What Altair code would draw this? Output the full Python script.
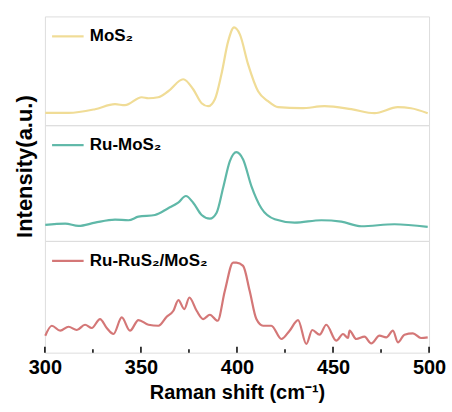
import altair as alt
import pandas as pd

# ---- data ----
mos2_x = [300.2, 312.3, 326.1, 336.5, 341.7, 350.4, 353.9, 359.0, 364.2, 372.0, 377.2,
          381.6, 385.0, 388.5, 391.9, 395.4, 398.5, 401.5, 405.8, 411.0, 416.2, 421.4,
          433.5, 445.6, 459.5, 471.6, 483.7, 490.6, 499.3]
mos2_y = [12.3, 12.3, 16, 21, 20, 28, 27, 28, 34, 46, 36,
          22, 19, 26, 51, 84, 98, 91, 61, 34, 24, 18,
          17, 19, 16, 12, 18, 17, 12]

ru_x = [300.2, 310.6, 317.5, 326.1, 336.5, 343.5, 348.7, 357.3, 364.2, 369.4, 373.4,
        377.2, 381.6, 385.9, 389.4, 392.8, 396.3, 399.7, 403.2, 407.5, 412.7, 419.7,
        430.0, 443.9, 454.3, 464.7, 482.0, 499.3]
ru_y = [16, 17.3, 15, 18.3, 21.3, 20.7, 24.3, 26, 32.7, 38.3, 45,
        38.3, 26, 22.3, 28.3, 53.3, 80, 89, 81.7, 55, 32.7, 21.7,
        18.3, 20.7, 19.3, 14.7, 16.7, 14]

rurus_x = [300.2, 303.6, 308.0, 312.3, 316.6, 320.9, 324.4, 328.7, 332.2, 335.7, 340.0,
           344.3, 348.7, 353.9, 359.1, 363.4, 366.9, 369.5, 372.6, 375.2, 379.0, 382.4,
           385.9, 389.9, 393.7, 398.0, 399.7, 403.2, 406.6, 410.1, 413.6, 417.9, 423.1,
           427.4, 431.8, 436.1, 439.2, 443.0, 446.5, 451.7, 455.2, 457.8, 458.6, 462.1,
           466.4, 469.9, 474.2, 477.7, 481.2, 483.8, 487.2, 491.6, 495.8, 499.3]
rurus_y = [17, 27, 22, 26, 22.7, 28, 24.7, 33.7, 24.7, 18.7, 35.3,
           22, 32.7, 28, 27, 36, 42, 52.7, 43.7, 55.3, 42, 33.7,
           38, 32, 62, 90.3, 90.3, 87, 62, 33.7, 27, 27, 13.7,
           22, 32.7, 8.7, 22.7, 18, 28, 12, 18.7, 14.7, 22, 13.7,
           16, 9.3, 17, 15.3, 22, 10.3, 18, 19.3, 14.7, 15.3]

names = ["MoS₂", "Ru-MoS₂", "Ru-RuS₂/MoS₂"]
colors = ["#F0DC96", "#5FB8A8", "#D47777"]
major_ticks = [300, 350, 400, 450, 500]
minor_ticks = [325, 375, 425, 475]

FONT = "Liberation Sans"
W = 385
heights = [109, 116, 112]


def panel(xs, ys, name, color, h, bottom=False, ytitle=False):
    df = pd.DataFrame({"shift": xs, "intensity": ys, "sample": name})
    if bottom:
        xaxis = alt.Axis(values=major_ticks, ticks=False, domain=False, grid=False,
                         labelFont=FONT, labelFontSize=20, labelFontWeight="bold",
                         labelColor="black", labelPadding=5, labelFlush=False,
                         title="Raman shift (cm⁻¹)", titleFont=FONT, titleFontSize=20,
                         titleFontWeight="bold", titleColor="black", titlePadding=5)
    else:
        xaxis = None
    if ytitle:
        yaxis = alt.Axis(labels=False, ticks=False, domain=False, grid=False,
                         title="Intensity(a.u.)", titleFont=FONT, titleFontSize=22,
                         titleFontWeight="bold", titleColor="black", titlePadding=8,
                         titleY=41)
    else:
        yaxis = None
    line = alt.Chart(df).mark_line(strokeWidth=2.2, interpolate="monotone").encode(
        x=alt.X("shift:Q", scale=alt.Scale(domain=[300, 500], nice=False), axis=xaxis),
        y=alt.Y("intensity:Q", scale=alt.Scale(domain=[0, h], nice=False), axis=yaxis),
        color=alt.Color("sample:N", scale=alt.Scale(domain=[name], range=[color]),
                        legend=alt.Legend(title=None, orient="none", legendX=6, legendY=3,
                                          symbolType="stroke", symbolSize=1000,
                                          symbolStrokeWidth=2.2, labelFont=FONT,
                                          labelFontSize=17, labelFontWeight="bold",
                                          labelColor="black", padding=0, labelOffset=5)),
    )
    layers = [line]
    if bottom:
        maj = alt.Chart(pd.DataFrame({"t": major_ticks})).mark_rule(
            color="black", strokeWidth=1.5).encode(
            x="t:Q", y=alt.value(h - 6), y2=alt.value(h))
        mnr = alt.Chart(pd.DataFrame({"t": minor_ticks})).mark_rule(
            color="black", strokeWidth=1.5).encode(
            x="t:Q", y=alt.value(h - 3.5), y2=alt.value(h))
        layers += [maj, mnr]
    return alt.layer(*layers).properties(width=W, height=h)


top = panel(mos2_x, mos2_y, names[0], colors[0], heights[0])
mid = panel(ru_x, ru_y, names[1], colors[1], heights[1], ytitle=True)
bot = panel(rurus_x, rurus_y, names[2], colors[2], heights[2], bottom=True)

chart = alt.vconcat(top, mid, bot, spacing=0, bounds="flush").resolve_scale(
    color="independent").resolve_legend(color="independent").configure_view(
    stroke="black", strokeWidth=2).configure(
    padding={"left": 13, "top": 15, "right": 5, "bottom": 5},
    background="white")

chart.save("out.html", embed_options={"renderer": "svg", "actions": False})
